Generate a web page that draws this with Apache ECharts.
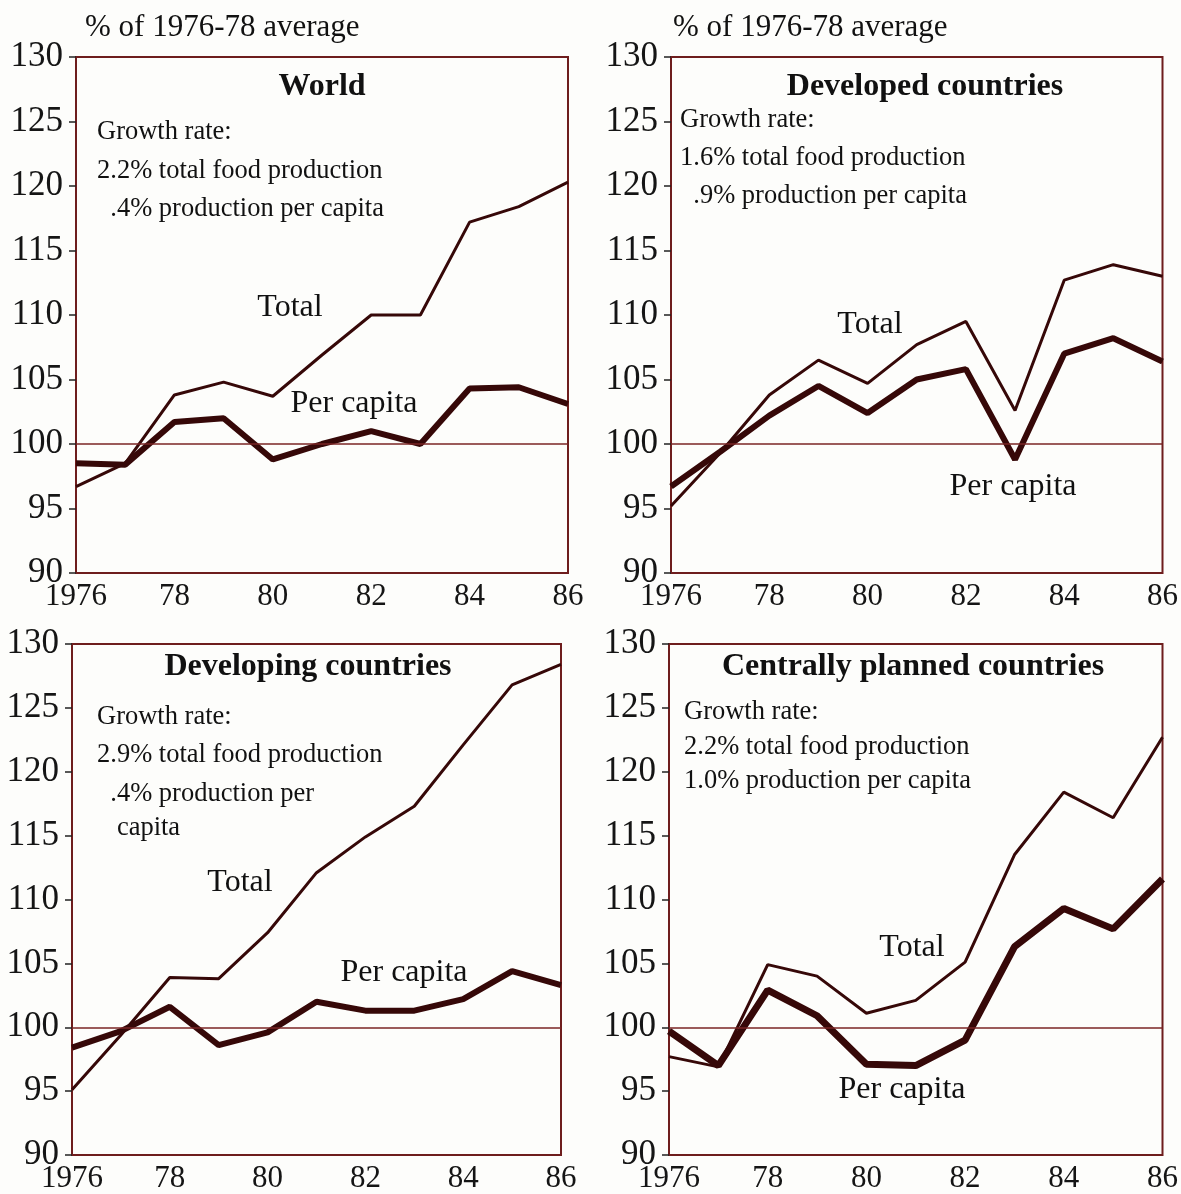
<!DOCTYPE html>
<html>
<head>
<meta charset="utf-8">
<script src="https://cdn.jsdelivr.net/npm/echarts@6/dist/echarts.min.js"></script>
<style>
  html, body { margin: 0; padding: 0; background: #fdfdfb; }
  #chart { width: 1181px; height: 1194px; }
</style>
</head>
<body>
<div id="chart"></div>
<script>
  // Data
  const years = [1976, 1977, 1978, 1979, 1980, 1981, 1982, 1983, 1984, 1985, 1986]
  const yTicks = [90, 95, 100, 105, 110, 115, 120, 125, 130]

  const worldTotal = [96.7, 98.5, 103.8, 104.8, 103.7, 106.9, 110.0, 110.0, 117.2, 118.4, 120.3]
  const worldPerCapita = [98.5, 98.4, 101.7, 102.0, 98.8, 100.0, 101.0, 100.0, 104.3, 104.4, 103.1]

  const developedTotal = [95.2, 99.3, 103.8, 106.5, 104.7, 107.7, 109.5, 102.6, 112.7, 113.9, 113.0]
  const developedPerCapita = [96.7, 99.4, 102.2, 104.5, 102.4, 105.0, 105.8, 98.8, 107.0, 108.2, 106.4]

  const developingTotal = [95.1, 99.4, 103.9, 103.8, 107.4, 112.1, 114.9, 117.3, 122.1, 126.8, 128.4]
  const developingPerCapita = [98.4, 99.7, 101.6, 98.6, 99.6, 102.0, 101.3, 101.3, 102.2, 104.4, 103.3]

  const plannedTotal = [97.7, 96.9, 104.9, 104.0, 101.1, 102.1, 105.1, 113.5, 118.4, 116.4, 122.7]
  const plannedPerCapita = [99.7, 97.0, 102.9, 100.9, 97.1, 97.0, 99.0, 106.3, 109.3, 107.7, 111.6]

  const panelTitles = ['World', 'Developed countries', 'Developing countries', 'Centrally planned countries']
  const growthNotes = [
    ['Growth rate:', '2.2% total food production', '  .4% production per capita'],
    ['Growth rate:', '1.6% total food production', '  .9% production per capita'],
    ['Growth rate:', '2.9% total food production', '  .4% production per', '   capita'],
    ['Growth rate:', '2.2% total food production', '1.0% production per capita']
  ]

  const pairs = vals => years.map((y, i) => [y, vals[i]])

  const serif = '"Liberation Serif", "DejaVu Serif", serif'
  const maroon = '#6e1d1d'
  const ink = '#360808'

  const grids = [
    {left: 76, top: 57, width: 492, height: 516},
    {left: 671, top: 57, width: 497, height: 516},
    {left: 72, top: 644, width: 489, height: 515},
    {left: 669, top: 644, width: 496, height: 515}
  ]

  const xAxes = grids.map((g, i) => ({
    type: 'value',
    gridIndex: i,
    min: 1976,
    max: 1986,
    interval: 2,
    axisLine: {show: false},
    axisTick: {show: false},
    splitLine: {show: false},
    axisLabel: {
      margin: 8,
      fontFamily: serif,
      fontSize: 31,
      color: '#151515',
      formatter: v => v === 1976 ? '1976' : String(v).slice(2)
    }
  }))

  const yAxes = grids.map((g, i) => ({
    type: 'value',
    gridIndex: i,
    min: yTicks[0],
    max: yTicks[yTicks.length - 1],
    interval: 5,
    axisLine: {show: false},
    axisTick: {show: true, length: 7, lineStyle: {color: '#222', width: 1.5}},
    splitLine: {show: false},
    axisLabel: {
      margin: 13,
      fontFamily: serif,
      fontSize: 35,
      color: '#151515'
    }
  }))

  const panelData = [
    [worldTotal, worldPerCapita],
    [developedTotal, developedPerCapita],
    [developingTotal, developingPerCapita],
    [plannedTotal, plannedPerCapita]
  ]

  let series = []
  panelData.forEach((d, i) => {
    series.push({
      name: panelTitles[i] + ' total',
      type: 'line',
      xAxisIndex: i,
      yAxisIndex: i,
      data: pairs(d[0]),
      symbol: 'none',
      lineStyle: {color: ink, width: 3},
      markLine: {
        silent: true,
        symbol: 'none',
        label: {show: false},
        lineStyle: {color: '#7a2424', width: 1.5, type: 'solid'},
        data: [{yAxis: 100}]
      },
      z: 3
    })
    series.push({
      name: panelTitles[i] + ' per capita',
      type: 'line',
      xAxisIndex: i,
      yAxisIndex: i,
      data: pairs(d[1]),
      symbol: 'none',
      lineStyle: {color: ink, width: i === 3 ? 7 : 6},
      z: 4
    })
  })

  // text annotations
  const txt = (x, y, text, size) => ({
    type: 'text',
    x: x,
    y: y,
    z: 10,
    style: {
      text: text,
      font: size + 'px ' + serif,
      fill: '#111',
      textAlign: 'left',
      textVerticalAlign: 'middle'
    }
  })

  const centered = (x, y, text, size, bold) => {
    let t = txt(x, y, text, size)
    t.style.textAlign = 'center'
    if (bold) t.style.font = 'bold ' + size + 'px ' + serif
    return t
  }

  const titlePos = [[322, 87], [925, 87], [308, 667], [913, 667]]
  const notePos = [
    {x: 97, ys: [132, 171, 209]},
    {x: 680, ys: [120, 158, 196]},
    {x: 97, ys: [717, 755, 794, 828]},
    {x: 684, ys: [712, 747, 781]}
  ]
  const totalPos = [[290, 308], [870, 325], [240, 883], [912, 948]]
  const perCapitaPos = [[354, 404], [1013, 487], [404, 973], [902, 1090]]

  let graphic = [
    txt(85, 28, '% of 1976-78 average', 31),
    txt(673, 28, '% of 1976-78 average', 31)
  ]
  panelTitles.forEach((t, i) => {
    graphic.push(centered(titlePos[i][0], titlePos[i][1], t, 32, true))
    growthNotes[i].forEach((line, k) => {
      graphic.push(txt(notePos[i].x, notePos[i].ys[k], line, 26.5))
    })
    graphic.push(centered(totalPos[i][0], totalPos[i][1], 'Total', 32))
    graphic.push(centered(perCapitaPos[i][0], perCapitaPos[i][1], 'Per capita', 32))
  })

  let option = {
    backgroundColor: '#fdfdfb',
    animation: false,
    grid: grids.map(g => Object.assign({
      show: true,
      borderColor: maroon,
      borderWidth: 2,
      backgroundColor: 'transparent'
    }, g)),
    xAxis: xAxes,
    yAxis: yAxes,
    series: series,
    graphic: graphic
  }

  let chart = echarts.init(document.getElementById('chart'))
  chart.setOption(option)
</script>
</body>
</html>
